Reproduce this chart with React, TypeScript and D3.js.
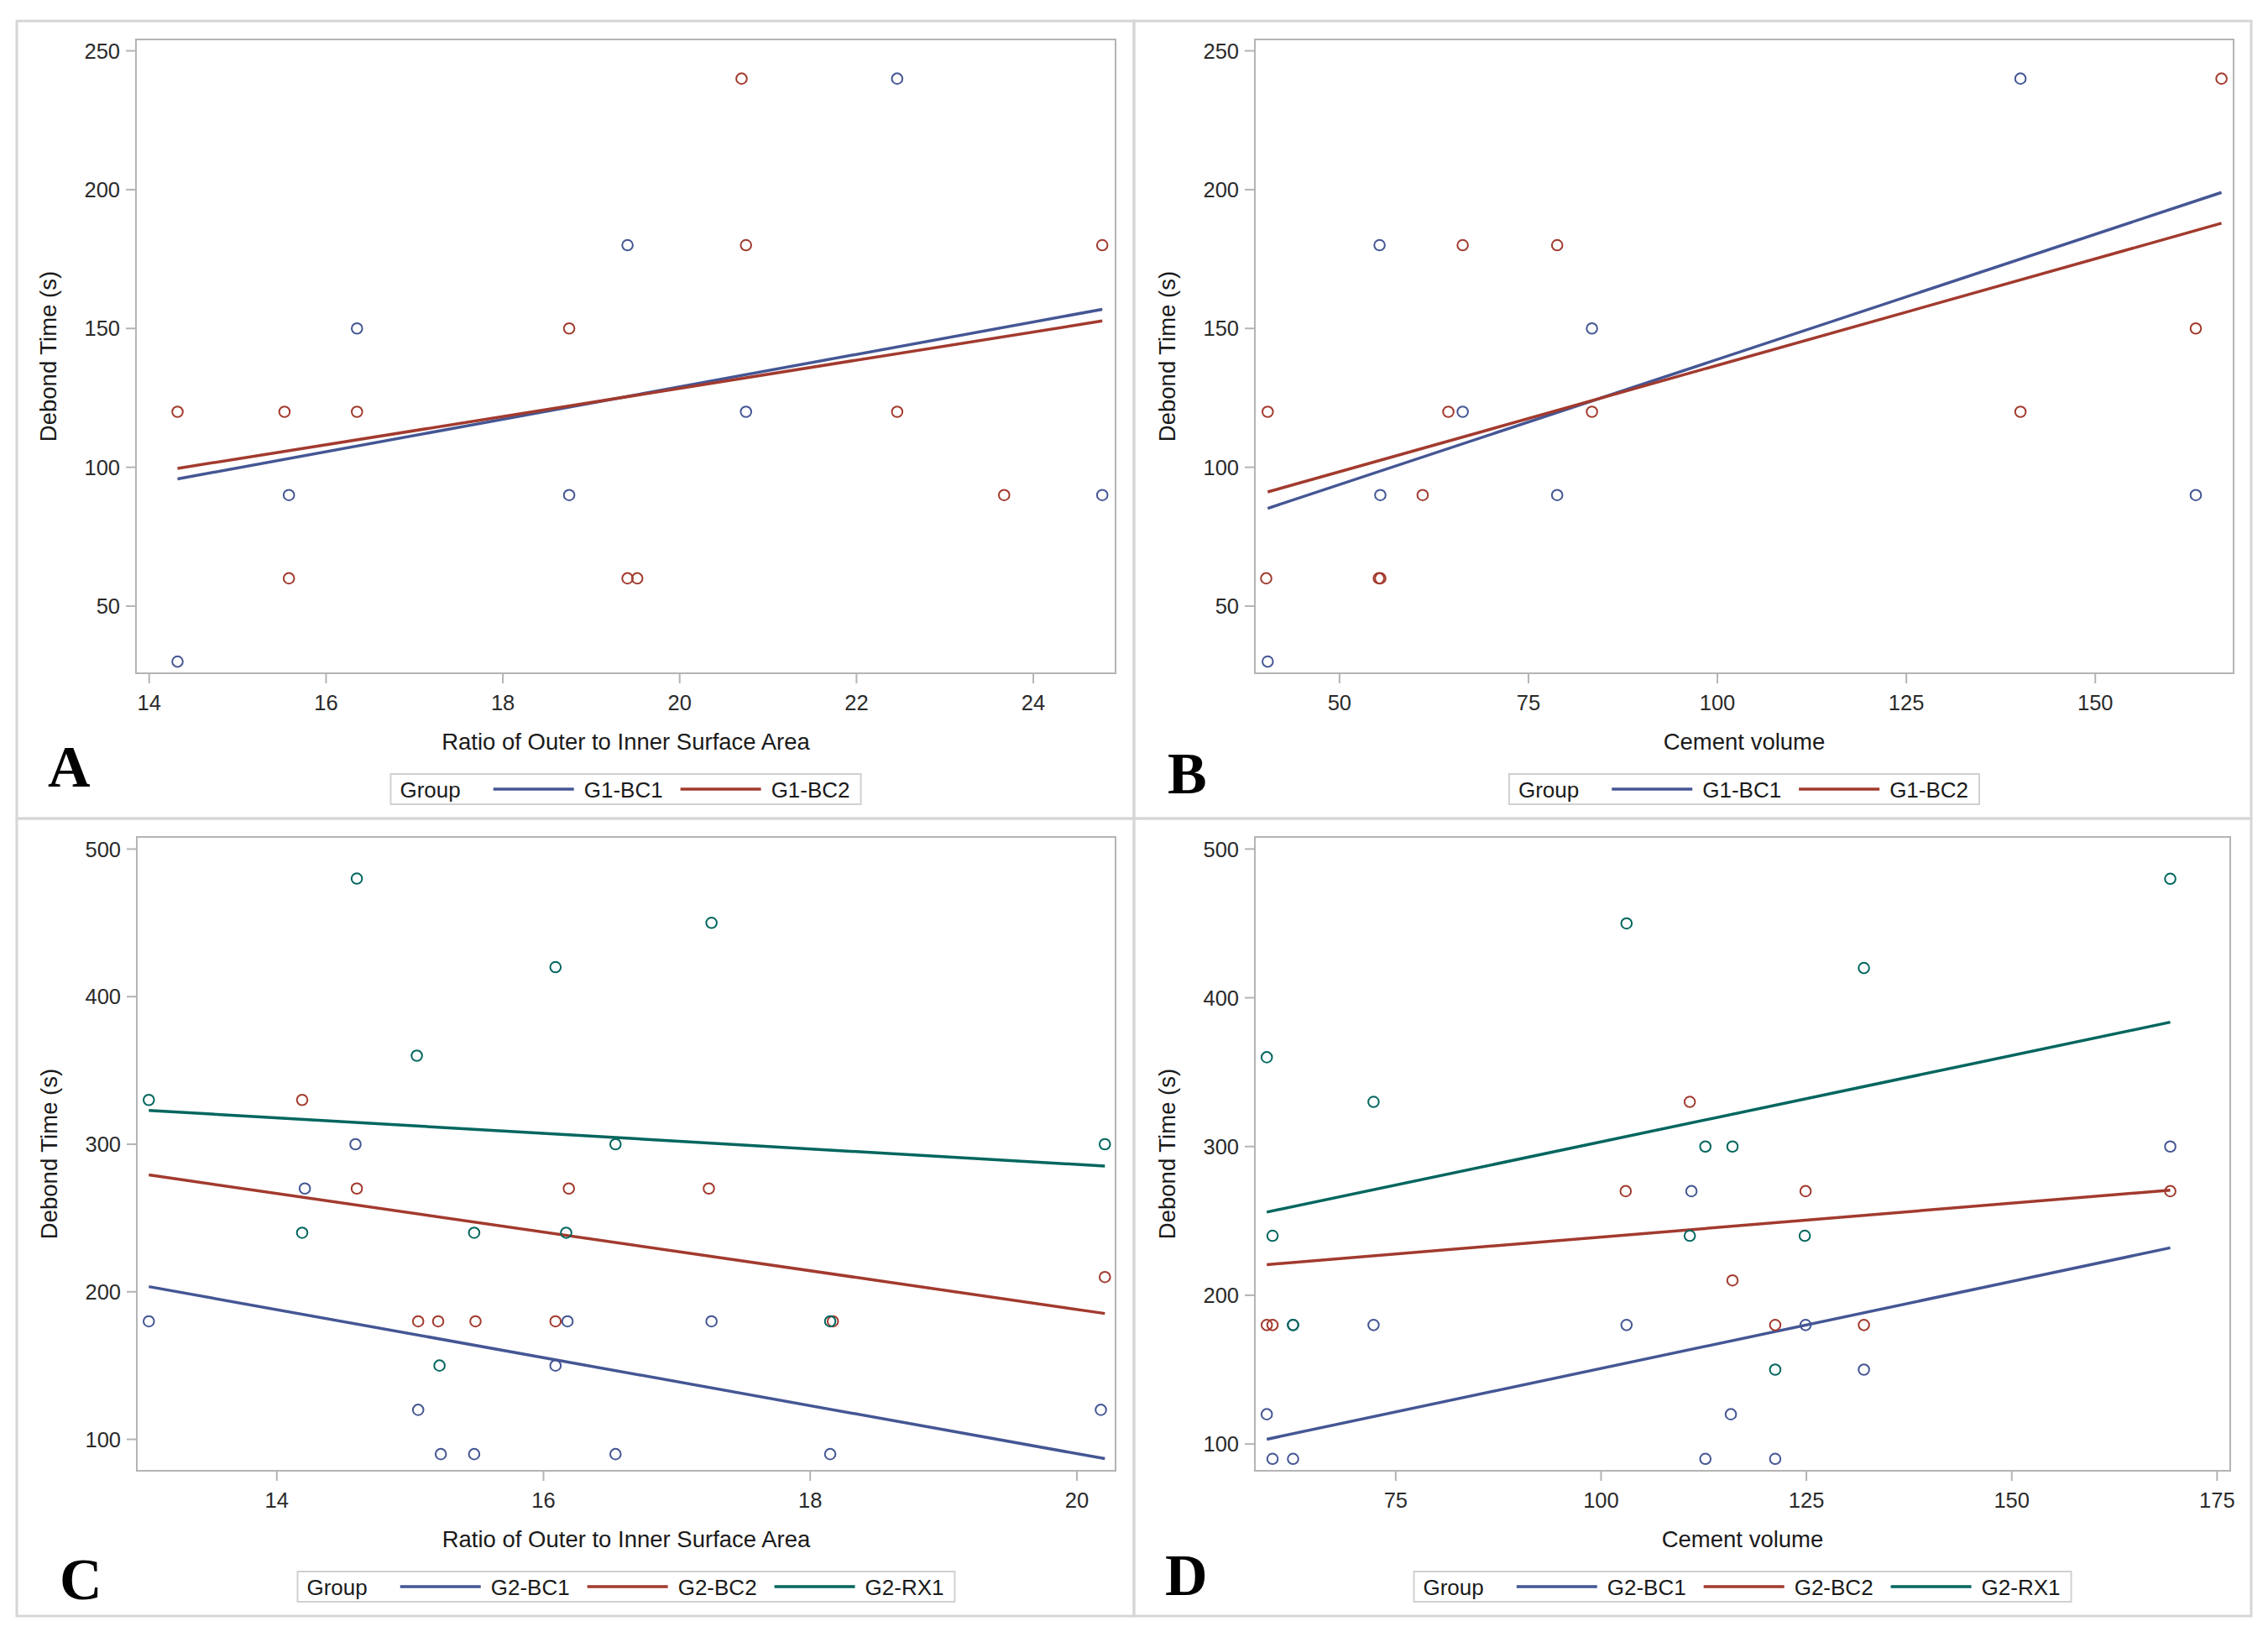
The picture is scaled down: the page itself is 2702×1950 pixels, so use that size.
import { useEffect, useRef } from 'react';
import * as d3 from 'd3';

const W = 2702;
const H = 1950;

const BLUE = '#445694';
const RED = '#A23A2E';
const GREEN = '#01665E';

// Panel A: G1 groups vs ratio of outer to inner surface area
const aBc1Ratio = [14.32, 15.58, 16.35, 18.75, 19.41, 20.75, 22.46, 24.78];
const aBc1Time = [30, 90, 150, 90, 180, 120, 240, 90];
const aBc2Ratio = [14.32, 15.53, 15.58, 16.35, 18.75, 19.41, 19.52, 20.7, 20.75, 22.46, 23.67, 24.78];
const aBc2Time = [120, 120, 60, 120, 150, 60, 60, 240, 180, 120, 90, 180];
const aFitX = [14.32, 24.78];
const aFitBc1 = [95.8, 156.9];
const aFitBc2 = [99.6, 152.7];

// Panel B: G1 groups vs cement volume
const bBc1Vol = [40.5, 55.3, 55.4, 66.3, 78.8, 83.4, 140.1, 163.3];
const bBc1Time = [30, 180, 90, 120, 90, 150, 240, 90];
const bBc2Vol = [40.5, 40.3, 55.2, 55.4, 61.0, 64.4, 66.3, 78.8, 83.4, 140.1, 163.3, 166.7];
const bBc2Time = [120, 60, 60, 60, 90, 120, 180, 180, 120, 120, 150, 240];
const bFitX = [40.5, 166.7];
const bFitBc1 = [85.2, 199];
const bFitBc2 = [91.1, 187.9];

// Panel C: G2 groups vs ratio
const cBc1Ratio = [13.04, 14.21, 14.59, 15.06, 15.23, 15.48, 16.09, 16.18, 16.54, 17.26, 18.15, 20.18];
const cBc1Time = [180, 270, 300, 120, 90, 90, 150, 180, 90, 180, 90, 120];
const cBc2Ratio = [14.19, 14.6, 15.06, 15.21, 15.49, 16.09, 16.19, 17.24, 18.17, 20.21];
const cBc2Time = [330, 270, 180, 180, 180, 180, 270, 270, 180, 210];
const cRx1Ratio = [13.04, 14.19, 14.6, 15.05, 15.22, 15.48, 16.09, 16.17, 16.54, 17.26, 18.15, 20.21];
const cRx1Time = [330, 240, 480, 360, 150, 240, 420, 240, 300, 450, 180, 300];
const cFitX = [13.04, 20.21];
const cFitBc1 = [203.5, 86.9];
const cFitBc2 = [279.2, 185.3];
const cFitRx1 = [322.9, 285.2];

// Panel D: G2 groups vs cement volume
const dBc1Vol = [59.3, 60.0, 62.5, 62.5, 72.3, 103.1, 111.0, 112.7, 115.8, 121.2, 124.9, 132.0, 169.3];
const dBc1Time = [120, 90, 90, 180, 180, 180, 270, 90, 120, 90, 180, 150, 300];
const dBc2Vol = [59.3, 60.0, 103.0, 110.8, 116.0, 121.2, 124.9, 132.0, 169.3];
const dBc2Time = [180, 180, 270, 330, 210, 180, 270, 180, 270];
const dRx1Vol = [59.3, 60.0, 62.5, 72.3, 103.1, 110.8, 112.7, 116.0, 121.2, 124.8, 132.0, 169.3];
const dRx1Time = [360, 240, 180, 330, 450, 240, 300, 300, 150, 240, 420, 480];
const dFitX = [59.3, 169.3];
const dFitBc1 = [103.2, 231.9];
const dFitBc2 = [220.6, 270.7];
const dFitRx1 = [255.9, 383.6];

const ratioTicks = { a: [14, 16, 18, 20, 22, 24], c: [14, 16, 18, 20] };
const volumeTicks = { b: [50, 75, 100, 125, 150], d: [75, 100, 125, 150, 175] };
const timeTicks = { g1: [50, 100, 150, 200, 250], g2: [100, 200, 300, 400, 500] };

interface Series {
  name: string;
  color: string;
  x: number[];
  y: number[];
  fitY: number[];
}

interface Panel {
  letter: string;
  letterX: number;
  letterY: number;
  frame: [number, number, number, number];
  plot: [number, number, number, number];
  xDomain: [number, number];
  yDomain: [number, number];
  xTicks: number[];
  yTicks: number[];
  xLabel: string;
  fitX: number[];
  series: Series[];
}

const panels: Panel[] = [
  {
    letter: 'A',
    letterX: 57,
    letterY: 937,
    frame: [20, 25, 1351, 975],
    plot: [162, 47, 1329, 802],
    xDomain: [13.85, 24.93],
    yDomain: [25.8, 254.1],
    xTicks: ratioTicks.a,
    yTicks: timeTicks.g1,
    xLabel: 'Ratio of Outer to Inner Surface Area',
    fitX: aFitX,
    series: [
      { name: 'G1-BC1', color: BLUE, x: aBc1Ratio, y: aBc1Time, fitY: aFitBc1 },
      { name: 'G1-BC2', color: RED, x: aBc2Ratio, y: aBc2Time, fitY: aFitBc2 },
    ],
  },
  {
    letter: 'B',
    letterX: 1391,
    letterY: 945,
    frame: [1351, 25, 2682, 975],
    plot: [1495, 47, 2661, 802],
    xDomain: [38.8, 168.3],
    yDomain: [25.8, 254.1],
    xTicks: volumeTicks.b,
    yTicks: timeTicks.g1,
    xLabel: 'Cement volume',
    fitX: bFitX,
    series: [
      { name: 'G1-BC1', color: BLUE, x: bBc1Vol, y: bBc1Time, fitY: bFitBc1 },
      { name: 'G1-BC2', color: RED, x: bBc2Vol, y: bBc2Time, fitY: bFitBc2 },
    ],
  },
  {
    letter: 'C',
    letterX: 71,
    letterY: 1905,
    frame: [20, 975, 1351, 1925],
    plot: [163, 997, 1329, 1752],
    xDomain: [12.95, 20.29],
    yDomain: [78.7, 508.2],
    xTicks: ratioTicks.c,
    yTicks: timeTicks.g2,
    xLabel: 'Ratio of Outer to Inner Surface Area',
    fitX: cFitX,
    series: [
      { name: 'G2-BC1', color: BLUE, x: cBc1Ratio, y: cBc1Time, fitY: cFitBc1 },
      { name: 'G2-BC2', color: RED, x: cBc2Ratio, y: cBc2Time, fitY: cFitBc2 },
      { name: 'G2-RX1', color: GREEN, x: cRx1Ratio, y: cRx1Time, fitY: cFitRx1 },
    ],
  },
  {
    letter: 'D',
    letterX: 1388,
    letterY: 1900,
    frame: [1351, 975, 2682, 1925],
    plot: [1495, 997, 2657, 1752],
    xDomain: [57.85, 176.6],
    yDomain: [82, 508.1],
    xTicks: volumeTicks.d,
    yTicks: timeTicks.g2,
    xLabel: 'Cement volume',
    fitX: dFitX,
    series: [
      { name: 'G2-BC1', color: BLUE, x: dBc1Vol, y: dBc1Time, fitY: dFitBc1 },
      { name: 'G2-BC2', color: RED, x: dBc2Vol, y: dBc2Time, fitY: dFitBc2 },
      { name: 'G2-RX1', color: GREEN, x: dRx1Vol, y: dRx1Time, fitY: dFitRx1 },
    ],
  },
];

const SANS = "'Liberation Sans', Arial, sans-serif";

export default function App() {
  const svgRef = useRef<SVGSVGElement>(null);

  useEffect(() => {
    if (!svgRef.current) return;
    const svg = d3.select(svgRef.current);
    svg.selectAll('*').remove();

    svg.append('rect').attr('width', W).attr('height', H).attr('fill', '#ffffff');

    panels.forEach((p) => {
      const [fx0, fy0, fx1, fy1] = p.frame;
      const [px0, py0, px1, py1] = p.plot;
      const g = svg.append('g');

      // panel frame
      g.append('rect')
        .attr('x', fx0)
        .attr('y', fy0)
        .attr('width', fx1 - fx0)
        .attr('height', fy1 - fy0)
        .attr('fill', 'none')
        .attr('stroke', '#d6d6d6')
        .attr('stroke-width', 3);

      const x = d3.scaleLinear().domain(p.xDomain).range([px0, px1]);
      const y = d3.scaleLinear().domain(p.yDomain).range([py1, py0]);

      // plot wall
      g.append('rect')
        .attr('x', px0)
        .attr('y', py0)
        .attr('width', px1 - px0)
        .attr('height', py1 - py0)
        .attr('fill', '#ffffff')
        .attr('stroke', '#b4b4b4')
        .attr('stroke-width', 2);

      // x ticks
      const xt = g.append('g');
      xt.selectAll('line')
        .data(p.xTicks)
        .enter()
        .append('line')
        .attr('x1', (d) => x(d))
        .attr('x2', (d) => x(d))
        .attr('y1', py1)
        .attr('y2', py1 + 12)
        .attr('stroke', '#b4b4b4')
        .attr('stroke-width', 2);
      xt.selectAll('text')
        .data(p.xTicks)
        .enter()
        .append('text')
        .attr('x', (d) => x(d))
        .attr('y', py1 + 44)
        .attr('text-anchor', 'middle')
        .attr('font-family', SANS)
        .attr('font-size', 25.5)
        .attr('fill', '#2a2a2a')
        .text((d) => String(d));

      // y ticks
      const yt = g.append('g');
      yt.selectAll('line')
        .data(p.yTicks)
        .enter()
        .append('line')
        .attr('x1', px0 - 12)
        .attr('x2', px0)
        .attr('y1', (d) => y(d))
        .attr('y2', (d) => y(d))
        .attr('stroke', '#b4b4b4')
        .attr('stroke-width', 2);
      yt.selectAll('text')
        .data(p.yTicks)
        .enter()
        .append('text')
        .attr('x', px0 - 19)
        .attr('y', (d) => y(d))
        .attr('dy', '0.36em')
        .attr('text-anchor', 'end')
        .attr('font-family', SANS)
        .attr('font-size', 25.5)
        .attr('fill', '#2a2a2a')
        .text((d) => String(d));

      // fit lines
      const line = d3
        .line<number>()
        .x((_d, i) => x(p.fitX[i]))
        .y((d) => y(d));
      p.series.forEach((s) => {
        g.append('path')
          .attr('d', line(s.fitY))
          .attr('fill', 'none')
          .attr('stroke', s.color)
          .attr('stroke-width', 3.5);
      });

      // markers
      p.series.forEach((s) => {
        g.append('g')
          .selectAll('circle')
          .data(s.x.map((v, i) => [v, s.y[i]]))
          .enter()
          .append('circle')
          .attr('cx', (d) => x(d[0]))
          .attr('cy', (d) => y(d[1]))
          .attr('r', 6.3)
          .attr('fill', 'none')
          .attr('stroke', s.color)
          .attr('stroke-width', 2);
      });

      const cx = (px0 + px1) / 2;

      // axis labels
      g.append('text')
        .attr('x', cx)
        .attr('y', py1 + 91)
        .attr('text-anchor', 'middle')
        .attr('font-family', SANS)
        .attr('font-size', 27.5)
        .attr('fill', '#1a1a1a')
        .text(p.xLabel);

      g.append('text')
        .attr('transform', `translate(${px0 - 105},${(py0 + py1) / 2}) rotate(-90)`)
        .attr('text-anchor', 'middle')
        .attr('dy', '0.35em')
        .attr('font-family', SANS)
        .attr('font-size', 27.5)
        .attr('fill', '#1a1a1a')
        .text('Debond Time (s)');

      // legend
      const legTop = py1 + 120;
      const legH = 36;
      const legFont = 26;
      const leg = g.append('g');
      const box = leg
        .append('rect')
        .attr('y', legTop)
        .attr('height', legH)
        .attr('fill', '#ffffff')
        .attr('stroke', '#d0d0d0')
        .attr('stroke-width', 2);
      const baseY = legTop + legH / 2 + 9.5;
      let cursor = 11;
      const items = leg.append('g');
      const title = items
        .append('text')
        .attr('x', cursor)
        .attr('y', baseY)
        .attr('font-family', SANS)
        .attr('font-size', legFont)
        .attr('fill', '#1a1a1a')
        .text('Group');
      cursor += (title.node() as SVGTextElement).getComputedTextLength() + 39;
      p.series.forEach((s, i) => {
        if (i > 0) cursor += 21;
        items
          .append('line')
          .attr('x1', cursor)
          .attr('x2', cursor + 96)
          .attr('y1', legTop + legH / 2)
          .attr('y2', legTop + legH / 2)
          .attr('stroke', s.color)
          .attr('stroke-width', 3.5);
        cursor += 96 + 12;
        const t = items
          .append('text')
          .attr('x', cursor)
          .attr('y', baseY)
          .attr('font-family', SANS)
          .attr('font-size', legFont)
          .attr('fill', '#1a1a1a')
          .text(s.name);
        cursor += (t.node() as SVGTextElement).getComputedTextLength();
      });
      cursor += 13;
      const legX = cx - cursor / 2;
      box.attr('x', legX).attr('width', cursor);
      items.attr('transform', `translate(${legX},0)`);

      // panel letter
      g.append('text')
        .attr('x', p.letterX)
        .attr('y', p.letterY)
        .attr('font-family', "'Liberation Serif', 'Times New Roman', serif")
        .attr('font-weight', 'bold')
        .attr('font-size', 70)
        .attr('fill', '#000000')
        .text(p.letter);
    });
  }, []);

  return (
    <div style={{ position: 'absolute', left: 0, top: 0, width: W, height: H, background: '#fff' }}>
      <svg ref={svgRef} width={W} height={H} />
    </div>
  );
}
